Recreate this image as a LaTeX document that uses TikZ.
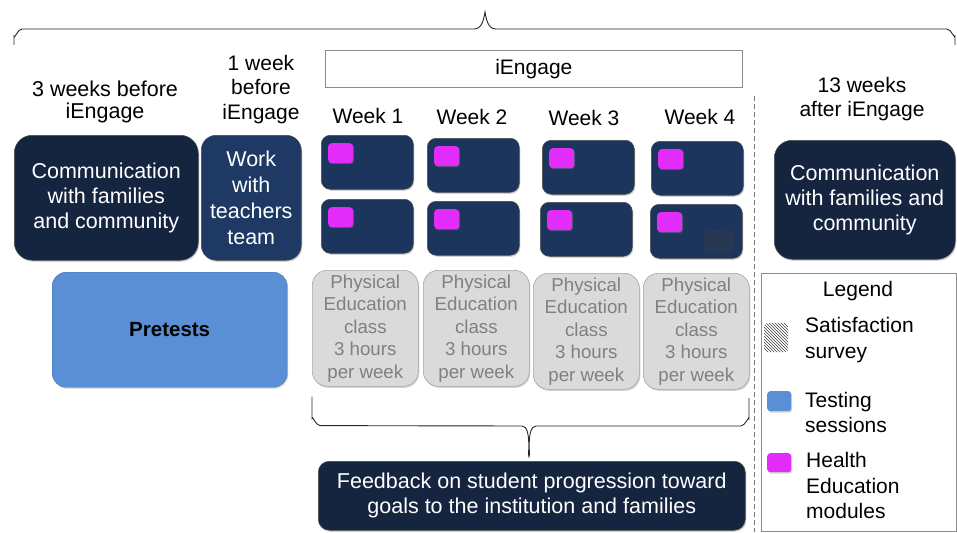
\documentclass[tikz,border=0pt]{standalone}
\usepackage{fontspec}
\setmainfont{Liberation Sans}
\usetikzlibrary{patterns,shadows}
\definecolor{navydark}{RGB}{21,37,64}
\definecolor{navy}{RGB}{27,53,92}
\definecolor{navymid}{RGB}{30,58,100}
\definecolor{mag}{RGB}{226,44,250}
\definecolor{testblue}{RGB}{90,143,214}
\definecolor{pegray}{RGB}{218,218,218}
\definecolor{petext}{RGB}{128,128,128}
\begin{document}
\begin{tikzpicture}[x=1pt,y=-1pt,
  shd/.style={drop shadow={opacity=0.35,shadow xshift=1pt,shadow yshift=-1.5pt}},
  bigbox/.style={fill=navydark,draw=black!70,line width=0.5pt,rounded corners=18pt,
    text=white,align=center,inner sep=0pt,anchor=north west,shd,
    font=\fontsize{21.5}{25}\selectfont},
  weekbox/.style={fill=navy,draw=black!70,line width=0.5pt,rounded corners=9pt,
    inner sep=0pt,anchor=north west,minimum width=92pt,minimum height=54pt,shd},
  hemod/.style={fill=mag,rounded corners=3.5pt,inner sep=0pt,anchor=north west,
    minimum width=25pt,minimum height=20pt,
    drop shadow={opacity=0.4,shadow xshift=0.8pt,shadow yshift=-1pt}},
  pebox/.style={fill=pegray,draw=black!35,line width=0.6pt,rounded corners=15pt,
    text=petext,align=center,inner sep=0pt,anchor=north west,
    minimum width=106pt,minimum height=116pt,
    font=\fontsize{18.7}{22.5}\selectfont,shd},
  lbl/.style={align=center,inner sep=0pt,font=\fontsize{21}{24}\selectfont},
  legtxt/.style={align=left,inner sep=0pt,anchor=west,font=\fontsize{21}{25.5}\selectfont},
  brace/.style={draw=black!85,line width=0.9pt}
]
\useasboundingbox (0,0) rectangle (957,532);

% top brace
\draw[brace] (14,45) -- (14,36) to[out=-90,in=180] (22,29) -- (474,29)
  to[out=0,in=-100] (485,12) to[out=-80,in=180] (496,29) -- (947,29)
  to[out=0,in=-90] (955,36) -- (955,45);

% iEngage header
\node[draw=black!45,line width=0.7pt,minimum width=417pt,minimum height=37pt,inner sep=0pt,
  anchor=north west,font=\fontsize{21}{24}\selectfont] (ieng) at (325,50) {iEngage};

% time labels
\node[lbl,font=\fontsize{21.5}{22}\selectfont] (t3) at (105,102) {3 weeks before\\iEngage};
\node[lbl,font=\fontsize{21}{24.5}\selectfont] (t1) at (261,89.5) {1 week\\before\\iEngage};
\node[lbl] (w1) at (368,116) {Week 1};
\node[lbl] (w2) at (472,117) {Week 2};
\node[lbl] (w3) at (584,118) {Week 3};
\node[lbl] (w4) at (700,117) {Week 4};
\node[lbl] (t13) at (862,99) {13 weeks\\after iEngage};

% big dark boxes
\node[bigbox,minimum width=184pt,minimum height=125pt] (comm1) at (14,135)
  {Communication\\with families\\and community};
\node[bigbox,fill=navymid,rounded corners=15pt,minimum width=100pt,minimum height=125pt,
  font=\fontsize{21.5}{26}\selectfont] (work) at (201,135)
  {Work\\with\\teachers\\team};
\node[bigbox,minimum width=181pt,minimum height=119pt] (comm2) at (774,140)
  {Communication\\with families and\\community};

% week boxes
\node[weekbox] (a1) at (321,135) {};
\node[weekbox] (a2) at (427,138) {};
\node[weekbox] (a3) at (542,140) {};
\node[weekbox] (a4) at (651,141) {};
\node[weekbox] (b1) at (321,199) {};
\node[weekbox] (b2) at (427,201) {};
\node[weekbox] (b3) at (540,202) {};
\node[weekbox] (b4) at (650,204) {};

% health education modules
\node[hemod] (m1) at (328,143) {};
\node[hemod] (m2) at (434,146) {};
\node[hemod] (m3) at (549,148) {};
\node[hemod] (m4) at (658,149) {};
\node[hemod] (n1) at (328,207) {};
\node[hemod] (n2) at (434,209) {};
\node[hemod] (n3) at (547,210) {};
\node[hemod] (n4) at (657,212) {};

% satisfaction survey in week 4
\node[fill=black!25,pattern=north west lines,pattern color=black!75,rounded corners=3pt,
  inner sep=0pt,anchor=north west,minimum width=30pt,minimum height=23pt] (sat) at (704,230) {};

% pretests
\node[fill=testblue,draw=testblue!80!black,line width=0.4pt,rounded corners=14pt,shd,
  inner sep=0pt,anchor=north west,minimum width=235pt,minimum height=115pt,
  font=\fontsize{20.5}{24}\selectfont\bfseries] (pre) at (52,272) {Pretests};

% physical education classes
\node[pebox] (pe1) at (312,270) {Physical\\Education\\class\\3 hours\\per week};
\node[pebox] (pe2) at (423,270) {Physical\\Education\\class\\3 hours\\per week};
\node[pebox] (pe3) at (533,273) {Physical\\Education\\class\\3 hours\\per week};
\node[pebox] (pe4) at (643,273) {Physical\\Education\\class\\3 hours\\per week};

% lower brace
\draw[brace] (pe1.south west) ++(0,10) -- ++(0,22) to[out=90,in=180] ++(8,7) -- (522,426)
  to[out=0,in=-100] (529,452) to[out=-80,in=180] (536,426) -- (741,426)
  to[out=0,in=90] (749,419) -- (749,398);

% feedback
\node[bigbox,rounded corners=11pt,minimum width=427pt,minimum height=69pt,
  font=\fontsize{21.5}{25}\selectfont] (fb) at (318,461)
  {Feedback on student progression toward\\goals to the institution and families};

% dashed separator
\coordinate (dtop) at (754,96);
\coordinate (dbot) at (754,532);
\draw[dashed,draw=black!55,line width=1pt,dash pattern=on 5pt off 3pt] (dtop) -- (dbot);

% legend
\node[draw=black!45,line width=0.7pt,inner sep=0pt,anchor=north west,
  minimum width=195pt,minimum height=258pt] (leg) at (761,273) {};
\node[lbl] (legt) at (858,291) {Legend};
\node[fill=black!25,pattern=north west lines,pattern color=black!75,rounded corners=3pt,
  inner sep=0pt,anchor=north west,minimum width=24pt,minimum height=29pt] (ls) at (764,323) {};
\node[fill=testblue,rounded corners=3pt,inner sep=0pt,anchor=north west,
  minimum width=24pt,minimum height=20pt,shd] (lt) at (767,391) {};
\node[fill=mag,rounded corners=3pt,inner sep=0pt,anchor=north west,
  minimum width=24pt,minimum height=19pt,shd] (lh) at (767,453) {};
\node[legtxt] (lst) at (805,340) {Satisfaction\\survey};
\node[legtxt] (ltt) at (805,412.5) {Testing\\sessions};
\node[legtxt] (lht) at (806,485.5) {Health\\Education\\modules};
\end{tikzpicture}
\end{document}
